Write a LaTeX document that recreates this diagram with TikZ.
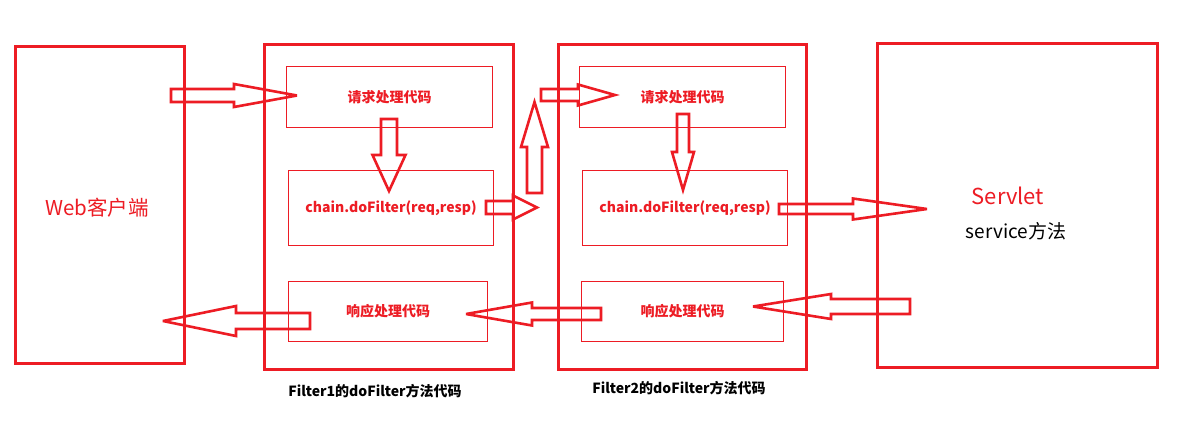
\documentclass[tikz,border=0pt]{standalone}
\usepackage{fontspec}
\setmainfont{Noto Sans CJK SC}
\definecolor{pred}{RGB}{237,28,36}
\newcommand{\harrow}[6]{% x0, xh, xt, yc, sw, hw
  \draw[blockarrow] (#1,#4-#5) -- (#2,#4-#5) -- (#2,#4-#6) -- (#3,#4) -- (#2,#4+#6) -- (#2,#4+#5) -- (#1,#4+#5) -- cycle;}
\newcommand{\varrow}[6]{% y0, yh, yt, xc, sw, hw
  \draw[blockarrow] (#4-#5,#1) -- (#4-#5,#2) -- (#4-#6,#2) -- (#4,#3) -- (#4+#6,#2) -- (#4+#5,#2) -- (#4+#5,#1) -- cycle;}
\tikzset{
  outerbox/.style={draw=pred, line width=3pt, anchor=north west, inner sep=0pt},
  innerbox/.style={draw=pred, line width=1pt, anchor=north west, inner sep=0pt, text=pred, font=\fontsize{14}{16}\selectfont\bfseries},
  blockarrow/.style={draw=pred, line width=2.6pt, line join=miter, miter limit=4},
  caption/.style={font=\fontsize{14}{16}\selectfont\bfseries, text=black},
}
\begin{document}
\begin{tikzpicture}[x=1pt,y=-1pt]
\useasboundingbox[fill=white] (0,0) rectangle (1199,442);
% arrows
\harrow{171}{234}{297}{95.5}{6.5}{11.5}
\varrow{119}{155}{191}{389}{8}{16.5}
\harrow{486}{513}{537}{207.5}{6.5}{12}
\varrow{193}{147}{102}{534.5}{7.5}{13.5}
\harrow{541}{578}{615}{95}{6}{10.5}
\varrow{114}{152}{190}{683}{6}{11}
\harrow{779}{853}{927}{209}{5}{10.5}
\harrow{310}{236}{163}{321}{8}{15}
\harrow{601}{532}{466}{314}{6}{11.5}
\harrow{910}{831}{753}{306.5}{7.5}{12.5}
% outer boxes
\node[outerbox, minimum width=169pt, minimum height=317pt] (web) at (14,45) {};
\node[outerbox, minimum width=249pt, minimum height=325pt] (f1) at (263,43) {};
\node[outerbox, minimum width=248pt, minimum height=325pt] (f2) at (557,43) {};
\node[outerbox, minimum width=280pt, minimum height=324pt] (servlet) at (876,42) {};
% inner boxes
\node[innerbox, minimum width=206pt, minimum height=61pt] (req1) at (286,66) {请求处理代码};
\node[innerbox, minimum width=205pt, minimum height=75pt] (chain1) at (288,170) {chain.doFilter(req,resp)};
\node[innerbox, minimum width=199pt, minimum height=60pt] (resp1) at (288,281) {响应处理代码};
\node[innerbox, minimum width=206pt, minimum height=61pt] (req2) at (579,66) {请求处理代码};
\node[innerbox, minimum width=205pt, minimum height=75pt] (chain2) at (582,170) {chain.doFilter(req,resp)};
\node[innerbox, minimum width=202pt, minimum height=60pt] (resp2) at (581,281) {响应处理代码};
% texts
\node[text=pred, font=\fontsize{20.5}{24}\selectfont] (webtxt) at (97,208) {Web客户端};
\node[text=pred, font=\fontsize{22}{26}\selectfont] (servtxt) at (1008,196) {Servlet};
\node[text=black, font=\fontsize{19}{22}\selectfont] (svctxt) at (1016,231) {service方法};
\node[caption] (cap1) at (375,391) {Filter1的doFilter方法代码};
\node[caption] (cap2) at (679,388) {Filter2的doFilter方法代码};
\end{tikzpicture}
\end{document}
